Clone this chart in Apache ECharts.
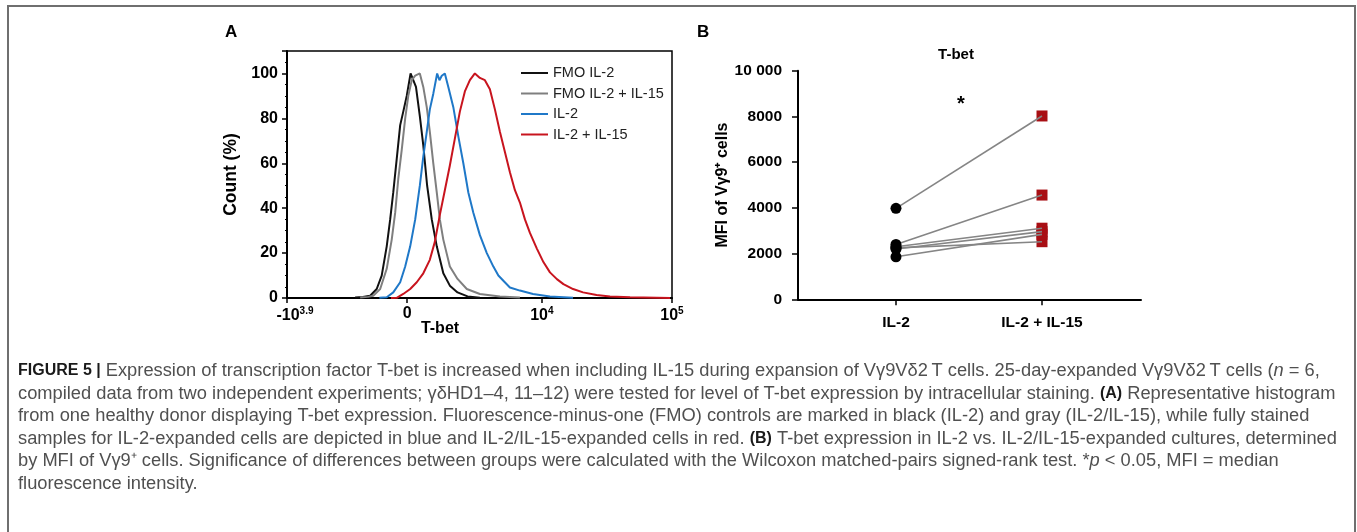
<!DOCTYPE html>
<html>
<head>
<meta charset="utf-8">
<script src="https://cdn.jsdelivr.net/npm/echarts@6/dist/echarts.min.js"></script>
<style>
  html, body { margin: 0; padding: 0; background: #fff; }
  #main { width: 1357px; height: 532px; }
</style>
</head>
<body>
<div id="main"></div>
<script>
// Panel A: T-bet histograms (x in display channels of the biexponential axis, y = % of max)
var fmoIl2X = [177, 197, 216, 233, 246, 259, 268, 276, 285, 294, 302, 311, 321, 328, 335, 345, 354, 364, 376, 389, 406, 423, 443, 469, 501];
var fmoIl2Y = [0.2, 0.5, 1, 4, 10, 23, 35, 47, 62, 77, 83, 90, 100, 97, 94, 81, 68, 50, 35, 23, 11, 5.5, 2.5, 0.7, 0.1];

var fmoIl15X = [190, 210, 224, 242, 259, 272, 281, 289, 298, 307, 315, 324, 333, 345, 354, 363, 371, 380, 389, 397, 406, 423, 443, 467, 501, 553, 605];
var fmoIl15Y = [0.2, 0.5, 1, 4, 13, 26, 38, 53, 66, 80, 90, 97, 99, 100, 94, 85, 74, 60, 47, 35, 26, 14, 8.5, 4, 1.8, 0.7, 0.2];

var il2X = [240, 259, 276, 294, 307, 320, 333, 345, 354, 363, 371, 380, 390, 396, 402, 410, 419, 432, 445, 458, 471, 484, 501, 519, 536, 549, 562, 579, 605, 639, 683, 743];
var il2Y = [0.1, 0.3, 2.5, 7, 14, 23, 35, 50, 63, 74, 84, 91, 100, 97, 99, 100, 94, 85, 72, 60, 47, 38, 28, 20, 14, 10, 7.7, 4.7, 3.3, 1.8, 0.7, 0.15];

var il15X = [270, 285, 302, 320, 337, 354, 371, 384, 397, 410, 423, 436, 449, 462, 475, 488, 501, 514, 527, 540, 553, 566, 579, 592, 605, 618, 631, 649, 666, 683, 701, 718, 743, 769, 804, 839, 891, 995];
var il15Y = [0, 0.1, 1.8, 4, 7, 11, 17, 25, 37, 48, 59, 71, 83, 92, 97, 100, 98, 97, 93, 84, 74, 65, 56, 48, 42.5, 35, 29, 22, 16, 11.4, 8.4, 6.2, 4, 2.5, 1.3, 0.7, 0.3, 0];

var histNames = ['FMO IL-2', 'FMO IL-2 + IL-15', 'IL-2', 'IL-2 + IL-15'];
var histColors = ['#111111', '#7f7f7f', '#1f78c8', '#c8141e'];

// x-axis ticks of panel A: channel position and label (base, exponent)
var tBetTicks = [0, 312, 662, 1000];
var tBetTickBase = ['-10', '0', '10', '10'];
var tBetTickExp = ['3.9', '', '4', '5'];

// Panel B: MFI of Vγ9+ cells, paired per donor
var groups = ['IL-2', 'IL-2 + IL-15'];
var mfiIl2 = [3980, 2400, 2300, 2250, 2200, 1860];
var mfiIl15 = [8020, 4560, 3110, 2520, 2960, 2840];

var captionLines = [
    '{b|FIGURE 5 |} Expression of transcription factor T-bet is increased when including IL-15 during expansion of Vγ9Vδ2\u2009T cells. 25-day-expanded Vγ9Vδ2\u2009T cells ({i|n} = 6,',
    'compiled data from two independent experiments; γδHD1–4, 11–12) were tested for level of T-bet expression by intracellular staining. {b|(A)} Representative histogram',
    'from one healthy donor displaying T-bet expression. Fluorescence-minus-one (FMO) controls are marked in black (IL-2) and gray (IL-2/IL-15), while fully stained',
    'samples for IL-2-expanded cells are depicted in blue and IL-2/IL-15-expanded cells in red. {b|(B)} T-bet expression in IL-2 vs. IL-2/IL-15-expanded cultures, determined',
    'by MFI of Vγ9⁺ cells. Significance of differences between groups were calculated with the Wilcoxon matched-pairs signed-rank test. *{i|p} < 0.05, MFI = median',
    'fluorescence intensity.'
];

var FONT = "'Liberation Sans', Arial, Helvetica, sans-serif";
var CAP_SIZE = 18.3;

function pairs(xs, ys) {
    var out = [];
    for (var i = 0; i < xs.length; i++) out.push([xs[i], ys[i]]);
    return out;
}

var xs = [[fmoIl2X, fmoIl2Y], [fmoIl15X, fmoIl15Y], [il2X, il2Y], [il15X, il15Y]];
var series = [];
for (var k = 0; k < xs.length; k++) {
    series.push({
        name: histNames[k],
        type: 'line',
        xAxisIndex: 0,
        yAxisIndex: 0,
        symbol: 'none',
        smooth: false,
        color: histColors[k],
        lineStyle: { width: 2, color: histColors[k] },
        data: pairs(xs[k][0], xs[k][1]),
        z: 3
    });
}

// panel B: squares below, connecting lines, circles on top
series.push({
    type: 'scatter',
    xAxisIndex: 1,
    yAxisIndex: 1,
    symbol: 'rect',
    symbolSize: 11,
    itemStyle: { color: '#a80f14', opacity: 1 },
    data: mfiIl15.map(function (v) { return [2, v]; }),
    z: 2
});
for (var d = 0; d < mfiIl2.length; d++) {
    series.push({
        type: 'line',
        xAxisIndex: 1,
        yAxisIndex: 1,
        symbol: 'none',
        lineStyle: { width: 1.6, color: '#858585' },
        data: [[1, mfiIl2[d]], [2, mfiIl15[d]]],
        z: 3
    });
}
series.push({
    type: 'scatter',
    xAxisIndex: 1,
    yAxisIndex: 1,
    symbol: 'circle',
    symbolSize: 11,
    itemStyle: { color: '#000', opacity: 1 },
    data: mfiIl2.map(function (v) { return [1, v]; }),
    z: 4
});

var graphics = [
    { type: 'text', left: 225, top: 24, style: { text: 'A', font: 'bold 17px ' + FONT, fill: '#000' } },
    { type: 'text', left: 697, top: 24, style: { text: 'B', font: 'bold 17px ' + FONT, fill: '#000' } },
    { type: 'text', x: 440, y: 329, style: { text: 'T-bet', font: 'bold 16px ' + FONT, fill: '#000', align: 'center', verticalAlign: 'middle' } },
    { type: 'text', x: 956, y: 55, style: { text: 'T-bet', font: 'bold 15px ' + FONT, fill: '#000', align: 'center', verticalAlign: 'middle' } },
    { type: 'text', x: 961, y: 104, style: { text: '*', font: 'bold 20px ' + FONT, fill: '#000', align: 'center', verticalAlign: 'middle' } },
    { type: 'rect', shape: { x: 8, y: 6, width: 1347, height: 560 }, style: { fill: 'none', stroke: '#6f6f6f', lineWidth: 2 } }
];
for (var c = 0; c < captionLines.length; c++) {
    graphics.push({
        type: 'text',
        x: 18,
        y: 371 + c * 22.6,
        style: {
            text: captionLines[c],
            font: CAP_SIZE + 'px ' + FONT,
            fill: '#505050',
            verticalAlign: 'middle',
            rich: {
                b: { fontWeight: 'bold', fill: '#1a1a1a', fontSize: 16, fontFamily: FONT },
                i: { fontStyle: 'italic', fontSize: CAP_SIZE, fontFamily: FONT }
            }
        }
    });
}

var chart = echarts.init(document.getElementById('main'));
chart.setOption({
    animation: false,
    backgroundColor: '#fff',
    textStyle: { fontFamily: FONT },
    grid: [
        { left: 287, top: 51, width: 385, height: 247, show: true, borderColor: '#000', borderWidth: 1.5, backgroundColor: 'transparent' },
        { left: 798, top: 70.7, width: 343, height: 228.6 }
    ],
    legend: {
        orient: 'vertical',
        left: 516,
        top: 60,
        icon: 'rect',
        itemWidth: 27,
        itemHeight: 2,
        itemGap: 4.5,
        data: histNames,
        textStyle: { fontSize: 14.5, lineHeight: 16, color: '#222', fontFamily: FONT }
    },
    xAxis: [
        {
            type: 'value', gridIndex: 0, min: 0, max: 1000,
            axisLine: { lineStyle: { color: '#000', width: 2 } },
            axisTick: { customValues: tBetTicks, length: 5, lineStyle: { color: '#000', width: 1.5 } },
            splitLine: { show: false },
            axisLabel: {
                customValues: tBetTicks,
                margin: 8,
                formatter: function (v) {
                    var i = tBetTicks.indexOf(v);
                    if (i < 0) return '';
                    var s = i === 0 ? '{w|}' : '';
                    s += '{b|' + tBetTickBase[i] + '}';
                    if (tBetTickExp[i]) s += '{s|' + tBetTickExp[i] + '}';
                    return s;
                },
                rich: {
                    w: { width: 16 },
                    b: { fontSize: 16, fontWeight: 'bold', color: '#000', fontFamily: FONT },
                    s: { fontSize: 10, fontWeight: 'bold', color: '#000', fontFamily: FONT, padding: [0, 0, 9, 0] }
                }
            }
        },
        {
            type: 'value', gridIndex: 1, min: 0.329, max: 2.678,
            axisLine: { lineStyle: { color: '#000', width: 2 } },
            axisTick: { customValues: [1, 2], length: 6, lineStyle: { color: '#000', width: 1.5 } },
            splitLine: { show: false },
            axisLabel: {
                customValues: [1, 2],
                margin: 15,
                fontSize: 15.5, fontWeight: 'bold', color: '#000',
                formatter: function (v) { return groups[Math.round(v) - 1] || ''; }
            }
        }
    ],
    yAxis: [
        {
            type: 'value', gridIndex: 0, min: 0, max: 110, interval: 20,
            name: 'Count (%)', nameLocation: 'middle', nameGap: 47, nameRotate: 90,
            nameTextStyle: { fontSize: 17.5, fontWeight: 'bold', color: '#000' },
            axisLine: { show: true, lineStyle: { color: '#000', width: 2 } },
            axisTick: { show: true, length: 5, lineStyle: { color: '#000', width: 1.5 } },
            minorTick: { show: true, splitNumber: 4, length: 2, lineStyle: { color: '#000' } },
            splitLine: { show: false },
            axisLabel: { margin: 9, fontSize: 16, fontWeight: 'bold', color: '#000', showMaxLabel: false }
        },
        {
            type: 'value', gridIndex: 1, min: 0, max: 10000, interval: 2000,
            name: 'MFI of Vγ9⁺ cells', nameLocation: 'middle', nameGap: 66, nameRotate: 90,
            nameTextStyle: { fontSize: 16, fontWeight: 'bold', color: '#000' },
            axisLine: { show: true, lineStyle: { color: '#000', width: 2 } },
            axisTick: { show: true, length: 6, lineStyle: { color: '#000', width: 1.5 } },
            splitLine: { show: false },
            axisLabel: {
                margin: 16, fontSize: 15.5, fontWeight: 'bold', color: '#000',
                formatter: function (v) { return v >= 10000 ? '10 000' : String(v); }
            }
        }
    ],
    graphic: graphics,
    series: series
});
</script>
</body>
</html>
